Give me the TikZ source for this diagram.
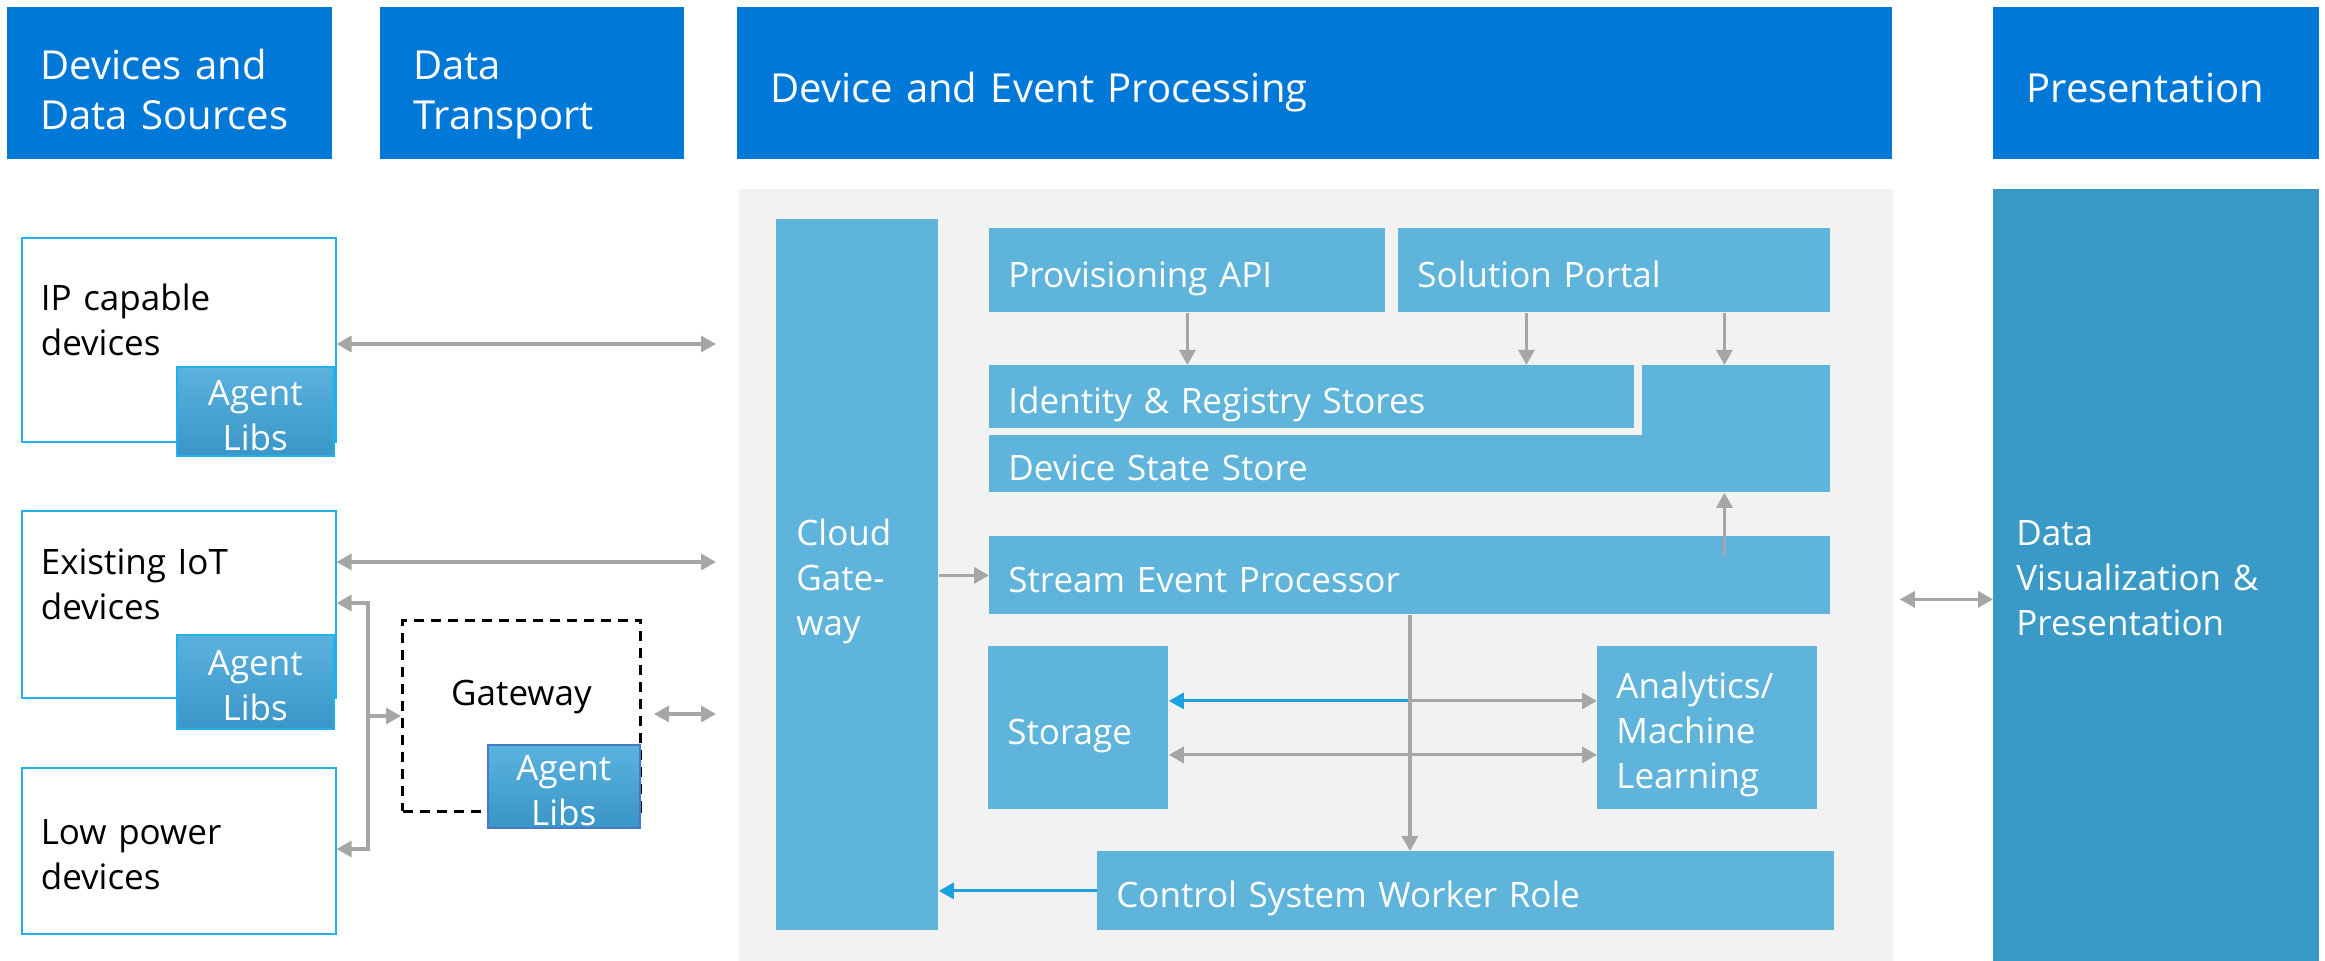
\documentclass[tikz,border=0pt]{standalone}
\usepackage{fontspec}
\setmainfont{Open Sans}
\usetikzlibrary{arrows.meta}

\definecolor{hdrblue}{HTML}{0078D7}
\definecolor{blkblue}{HTML}{5EB4DA}
\definecolor{presblue}{HTML}{3A9AC7}
\definecolor{panelgray}{HTML}{F2F2F2}
\definecolor{arrgray}{HTML}{A6A6A6}
\definecolor{arrblue}{HTML}{1BA1E2}
\definecolor{devcyan}{HTML}{21B1EA}
\definecolor{libdark}{HTML}{3A96C8}
\definecolor{liblight}{HTML}{5AB2DE}
\definecolor{libedge}{HTML}{4A78C8}

\newcommand\hfnt{\fontsize{20}{25}\selectfont}
\newcommand\bfnt{\fontsize{17.5}{22.5}\selectfont}

\tikzset{
  hdr/.style={fill=hdrblue, text=white, font=\hfnt, align=left, anchor=north west,
    inner xsep=16.5pt, inner ysep=0pt, minimum height=76pt},
  hone/.style={text height=21pt, text depth=1.8pt},
  htwo/.style={text height=15.2pt, text depth=19.4pt},
  dev/.style={draw=devcyan, line width=0.8pt, fill=white, font=\bfnt, align=left,
    anchor=north west, inner xsep=9.5pt, inner ysep=0pt, minimum width=157pt, text width=138pt},
  raised/.style={text height=13.3pt, text depth=43pt},
  lib/.style={draw=devcyan, line width=0.8pt, top color=liblight, bottom color=libdark,
    text=white, font=\bfnt, align=center, anchor=north west, inner sep=0pt,
    text height=13.3pt, text depth=19.5pt},
  blk/.style={fill=blkblue, text=white, font=\bfnt, align=left, anchor=north west,
    inner xsep=9.5pt, inner ysep=0pt, text height=18.5pt, text depth=1.8pt},
  three/.style={text height=13.3pt, text depth=42.5pt},
  arr/.style={draw=arrgray, line width=1.6pt, arrows={-Triangle[length=7.5pt,width=8pt]}},
  arr2/.style={arr, arrows={Triangle[length=7.5pt,width=8pt]-Triangle[length=7.5pt,width=8pt]}},
  barr/.style={draw=arrblue, line width=1.5pt, arrows={-Triangle[length=7.5pt,width=8pt]}}
}

\begin{document}
\begin{tikzpicture}[x=0.5pt, y=-0.5pt]
  \useasboundingbox[fill=white] (0,0) rectangle (2325,961);

  % column headers
  \node (h1) [hdr, htwo, minimum width=162.5pt, text width=129.5pt] at (7,7) {Devices and\\Data Sources};
  \node (h2) [hdr, htwo, minimum width=152pt, text width=119pt] at (380,7) {Data\\Transport};
  \node (h3) [hdr, hone, minimum width=577.5pt, text width=544.5pt] at (737,7) {Device and Event Processing};
  \node (h4) [hdr, hone, minimum width=163pt, text width=130pt] at (1993,7) {Presentation};

  % backgrounds
  \node (panel) [fill=panelgray, anchor=north west, inner sep=0pt, minimum width=577pt,
    minimum height=386pt] at (739,189) {};
  \node (pres) [fill=presblue, text=white, font=\bfnt, align=left, anchor=north west,
    inner xsep=11.5pt, inner ysep=0pt, minimum width=163pt, text width=140pt,
    minimum height=386pt, text height=13.3pt, text depth=43pt] at (1993,189) {Data\\Visualization \&\\Presentation};

  % devices
  \node (ip) [dev, raised, minimum height=102pt] at (21,237) {IP capable\\devices};
  \node (iot) [dev, raised, minimum height=93.5pt] at (21,510) {Existing IoT\\devices};
  \node (low) [dev, text height=13.3pt, text depth=19.5pt, minimum height=83pt] at (21,767) {Low power\\devices};
  \node (lib1) [lib, minimum width=78.5pt, text width=78.5pt, minimum height=44.5pt] at (176,366) {Agent\\Libs};
  \node (lib2) [lib, minimum width=78.5pt, text width=78.5pt, minimum height=47pt] at (176,634) {Agent\\Libs};

  % field gateway
  \node (gw) [draw=black, line width=1.5pt, dash pattern=on 5pt off 3.5pt, font=\bfnt,
    anchor=north west, inner sep=0pt, minimum width=119pt, minimum height=95.5pt,
    text depth=23pt] at (401,619) {Gateway};
  \node (lib3) [lib, draw=libedge, minimum width=76pt, text width=76pt, minimum height=41.5pt] at (487,744) {Agent\\Libs};

  % device and event processing
  \node (cg) [blk, three, inner xsep=10pt, minimum width=81pt, text width=61pt,
    minimum height=355.5pt] at (776,219) {Cloud\\Gate-\\way};
  \node (prov) [blk, minimum width=198pt, text width=179pt, minimum height=42pt] at (989,228) {Provisioning API};
  \node (sol) [blk, minimum width=216pt, text width=197pt, minimum height=42pt] at (1398,228) {Solution Portal};
  \node (ids) [blk, minimum width=322.5pt, text width=303.5pt, minimum height=31.5pt] at (989,365) {Identity \& Registry Stores};
  \node (dsstop) [blk, minimum width=94pt, minimum height=37.5pt] at (1642,365) {};
  \node (dss) [blk, minimum width=420.5pt, text width=401.5pt, minimum height=28.5pt] at (989,435) {Device State Store};
  \node (sep) [blk, minimum width=420.5pt, text width=401.5pt, minimum height=39pt] at (989,536) {Stream Event Processor};
  \node (sto) [blk, minimum width=90pt, text width=71pt, minimum height=81.5pt] at (988,646) {Storage};
  \node (ana) [blk, three, minimum width=110pt, text width=91pt, minimum height=81.5pt] at (1597,646) {Analytics/\\Machine\\Learning};
  \node (ctl) [blk, minimum width=368.5pt, text width=349.5pt, minimum height=39.5pt] at (1097,851) {Control System Worker Role};

  % transport links
  \coordinate (ipin) at (716,344);
  \coordinate (iotin) at (716,562);
  \coordinate (gwin) at (716,714);
  \coordinate (bt) at (368,603);
  \coordinate (bb) at (368,849);
  \draw[arr2] (ipin -| ip.east) -- (ipin);
  \draw[arr2] (iotin -| iot.east) -- (iotin);
  \draw[arr2] (bt -| iot.east) -- (bt) -- (bb) -- (bb -| low.east);
  \draw[arr] (gw.west -| bt) -- (gw.west);
  \draw[arr2] ([xshift=6pt]gwin -| gw.east) -- (gwin);

  % processing links
  \coordinate (upx) at ([xshift=55pt]sol.south);
  \coordinate (mid) at (sep.south |- sto.east);
  \draw[arr] (prov.south) -- (prov.south |- ids.north);
  \draw[arr] ([xshift=-44pt]sol.south) -- ([xshift=-44pt]sol.south |- ids.north);
  \draw[arr] (upx) -- (upx |- dsstop.north);
  \draw[arr] ([yshift=-10pt]upx |- sep.north) -- (upx |- dss.south);
  \draw[arr] (cg.east |- sep.west) -- (sep.west);
  \draw[barr] ([yshift=13.5pt]mid) -- ([yshift=13.5pt]sto.east);
  \draw[arr] ([yshift=13.5pt]mid) -- ([yshift=13.5pt]ana.west);
  \draw[arr2] ([yshift=-13.5pt]sto.east) -- ([yshift=-13.5pt]ana.west);
  \draw[arr] (sep.south) -- (sep.south |- ctl.north);
  \draw[barr] (ctl.west) -- (ctl.west -| cg.east);
  \draw[arr2] ([xshift=3pt,yshift=-12pt]panel.east) -- ([yshift=-12pt]pres.west);
\end{tikzpicture}
\end{document}
